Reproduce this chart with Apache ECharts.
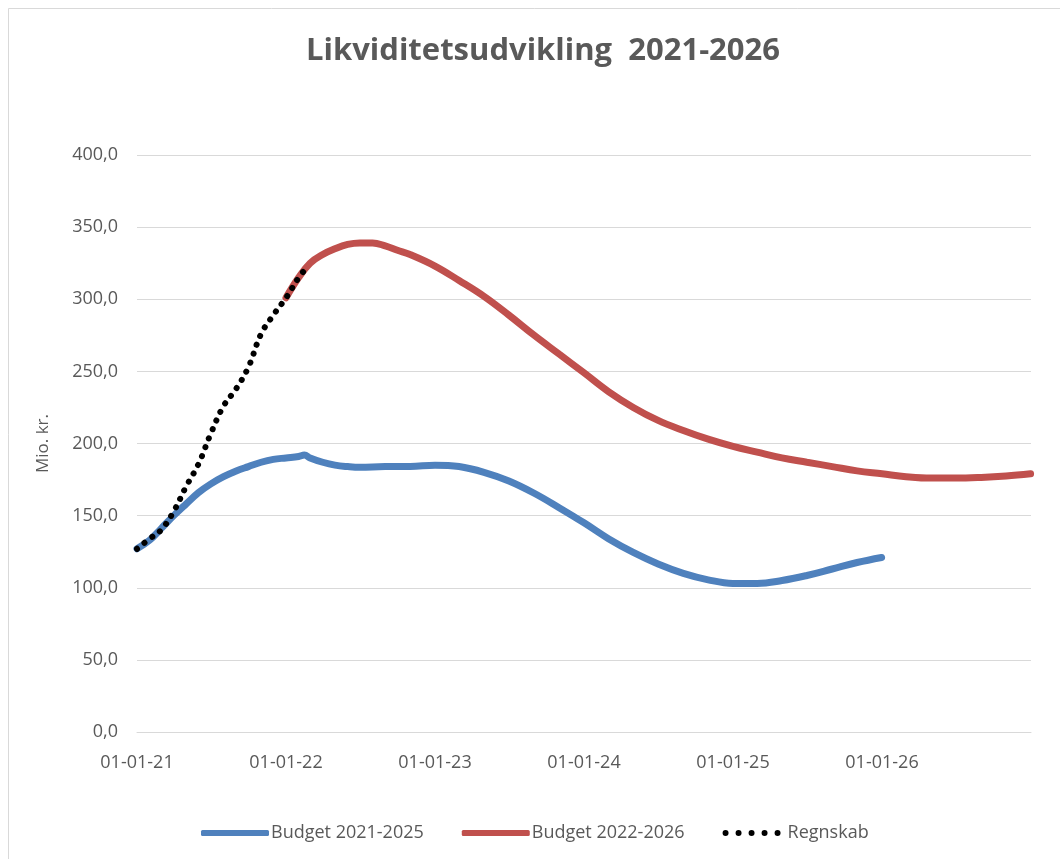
<!DOCTYPE html>
<html>
<head>
<meta charset="utf-8">
<script src="https://cdn.jsdelivr.net/npm/echarts@6/dist/echarts.min.js"></script>
<style>
html,body{margin:0;padding:0;background:#fff;}
#chart{width:1060px;height:859px;}
</style>
</head>
<body>
<div id="chart"></div>
<script>
// ---- data ----
const titleText = 'Likviditetsudvikling  2021-2026';
const yAxisName = 'Mio. kr.';
const seriesNames = ['Budget 2021-2025', 'Budget 2022-2026', 'Regnskab'];

const budget2125Dates = ['2021-01-01','2021-02-01','2021-03-01','2021-04-01','2021-05-01','2021-06-01','2021-07-01','2021-08-01','2021-09-01','2021-10-01','2021-11-01','2021-12-01','2022-01-01','2022-02-01','2022-02-15','2022-03-01','2022-04-01','2022-05-01','2022-06-01','2022-07-01','2022-09-01','2022-11-01','2023-01-01','2023-03-01','2023-05-01','2023-07-01','2023-09-01','2023-11-01','2024-01-01','2024-03-01','2024-05-01','2024-07-01','2024-09-01','2024-11-01','2025-01-01','2025-03-01','2025-05-01','2025-07-01','2025-09-01','2025-11-01','2025-12-31'];
const budget2125Values = [127,133,141,150,158,166,172,177,181,184,187,189,190,191,192,190,187,185,184,183.5,184,184,185,184,180,174,165.5,155.5,145,134,124.5,116.5,110,105.5,103,103,105,108.5,113,117.5,121];

const budget2226Dates = ['2022-01-01','2022-02-01','2022-03-01','2022-04-01','2022-05-01','2022-06-01','2022-07-01','2022-08-01','2022-09-01','2022-10-01','2022-11-01','2023-01-01','2023-03-01','2023-05-01','2023-07-01','2023-09-01','2023-11-01','2024-01-01','2024-03-01','2024-05-01','2024-07-01','2024-09-01','2024-11-01','2025-01-01','2025-03-01','2025-05-01','2025-07-01','2025-09-01','2025-11-01','2026-01-01','2026-03-01','2026-05-01','2026-07-01','2026-09-01','2026-11-01','2026-12-31'];
const budget2226Values = [301,315,325,331,335,338,339,339,337,334,331,323,313,302,289,275,262,249,236,225,216,209,203,198,194,190,187,184,181,179,177,176,176,176.5,177.5,179];

const regnskabDates = ['2021-01-01','2021-02-01','2021-03-01','2021-04-01','2021-05-01','2021-06-01','2021-07-01','2021-08-01','2021-09-01','2021-10-01','2021-11-01','2021-12-01','2022-01-01','2022-02-01','2022-02-15'];
const regnskabValues = [127,134,140,153,170,186,207,226,238,253,276,289,301,315,320];

const xTickYears = [2021, 2022, 2023, 2024, 2025, 2026, 2027];
const yTicks = [0, 50, 100, 150, 200, 250, 300, 350, 400];

// ---- helpers ----
function toYear(s) {
  const p = s.split('-').map(Number);
  const start = Date.UTC(p[0], 0, 1), end = Date.UTC(p[0] + 1, 0, 1);
  return p[0] + (Date.UTC(p[0], p[1] - 1, p[2]) - start) / (end - start);
}
function pairs(dates, vals) { return dates.map((d, i) => [toYear(d), vals[i]]); }

const txt = '#595959';
const font = 'Open Sans';
// five dots for the dotted-line legend key
const dotIcon = 'path://M0,3a3,3 0 1,0 6,0a3,3 0 1,0 -6,0Z M13,3a3,3 0 1,0 6,0a3,3 0 1,0 -6,0Z M26,3a3,3 0 1,0 6,0a3,3 0 1,0 -6,0Z M39,3a3,3 0 1,0 6,0a3,3 0 1,0 -6,0Z M52,3a3,3 0 1,0 6,0a3,3 0 1,0 -6,0Z';

const chart = echarts.init(document.getElementById('chart'), null, {renderer: 'canvas'});
chart.setOption({
  backgroundColor: '#ffffff',
  animation: false,
  title: {
    text: titleText,
    left: 538, top: 31, textAlign: 'center',
    textStyle: {fontFamily: font, fontWeight: 'bold', fontSize: 31, color: txt}
  },
  graphic: [{
    type: 'rect', shape: {x: 8.5, y: 8.5, width: 1070, height: 870},
    style: {fill: 'none', stroke: '#d9d9d9', lineWidth: 1}, silent: true
  }],
  grid: {left: 137, right: 29, top: 155, bottom: 127, containLabel: false},
  xAxis: {
    type: 'value',
    min: xTickYears[0], max: xTickYears[xTickYears.length - 1], interval: 1,
    axisLine: {show: true, lineStyle: {color: '#d9d9d9', width: 1}},
    axisTick: {show: false},
    splitLine: {show: false},
    axisLabel: {
      color: txt, fontFamily: font, fontSize: 18, margin: 22,
      showMaxLabel: false,
      formatter: v => '01-01-' + String(Math.round(v)).slice(2)
    }
  },
  yAxis: {
    type: 'value',
    min: yTicks[0], max: yTicks[yTicks.length - 1], interval: 50,
    name: yAxisName, nameLocation: 'middle', nameRotate: 90, nameGap: 85,
    nameTextStyle: {color: txt, fontFamily: font, fontSize: 17},
    axisLine: {show: false},
    axisTick: {show: false},
    splitLine: {show: true, lineStyle: {color: '#d9d9d9', width: 1}},
    axisLabel: {
      color: txt, fontFamily: font, fontSize: 18, margin: 19,
      formatter: v => v.toFixed(1).replace('.', ',')
    }
  },
  legend: {
    left: 196, top: 819,
    itemWidth: 68, itemHeight: 6, itemGap: 38,
    textStyle: {color: txt, fontFamily: font, fontSize: 18, padding: [0, 0, 0, -3]},
    data: [
      {name: seriesNames[0], icon: 'roundRect'},
      {name: seriesNames[1], icon: 'roundRect'},
      {name: seriesNames[2], icon: dotIcon}
    ]
  },
  series: [
    {
      name: seriesNames[0], type: 'line', data: pairs(budget2125Dates, budget2125Values),
      showSymbol: false, symbol: 'none', smooth: 0.4,
      lineStyle: {color: '#4F81BD', width: 7, cap: 'round'}, itemStyle: {color: '#4F81BD'}
    },
    {
      name: seriesNames[1], type: 'line', data: pairs(budget2226Dates, budget2226Values),
      showSymbol: false, symbol: 'none', smooth: 0.4,
      lineStyle: {color: '#C0504D', width: 7, cap: 'round'}, itemStyle: {color: '#C0504D'}
    },
    {
      name: seriesNames[2], type: 'line', data: pairs(regnskabDates, regnskabValues),
      showSymbol: false, symbol: 'none', smooth: 0.4, z: 5,
      lineStyle: {color: '#000000', width: 6, type: [0.1, 9.5], cap: 'round'}, itemStyle: {color: '#000000'}
    }
  ]
});
</script>
</body>
</html>
